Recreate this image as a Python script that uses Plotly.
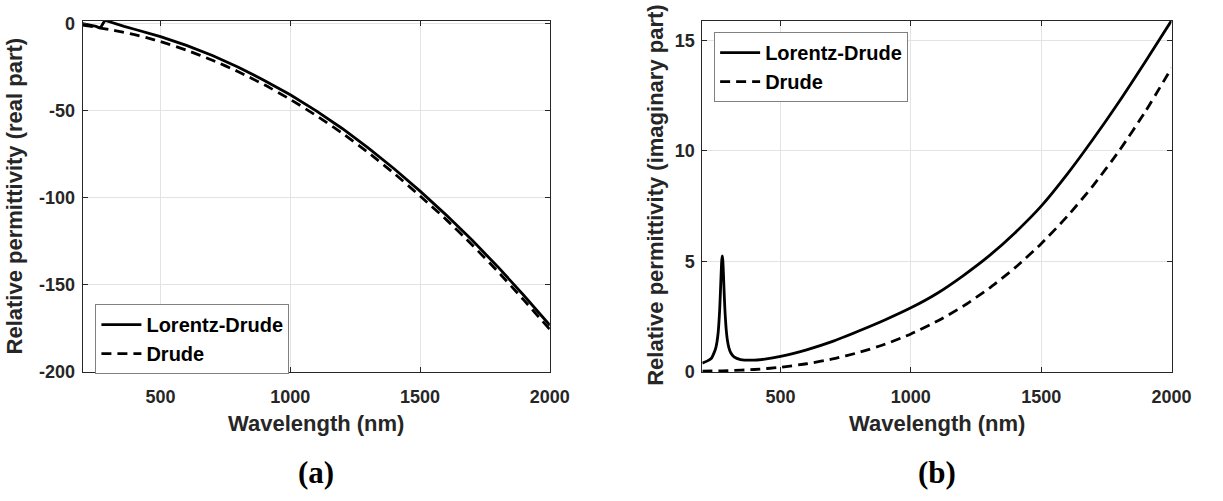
import plotly.graph_objects as go

# ---------------- data ----------------
# (a) real part
lam_re_ld = [200, 220, 240, 252, 260, 264, 267, 270, 273, 276, 279, 282, 285, 288, 292, 298,
             310, 330, 360, 400, 450, 500, 600, 700, 800, 900, 1000, 1100, 1200, 1300, 1400,
             1500, 1600, 1700, 1800, 1900, 2000]
re_ld = [0.0, -0.5, -1.1, -1.6, -2.1, -2.35, -2.4, -2.1, -1.3, -0.3, 0.6, 1.3, 1.7, 1.8, 1.6, 1.2,
         0.6, -0.3, -1.6, -3.2, -5.3, -7.5, -12.5, -18.3, -25.0, -32.6, -40.8, -50.1, -60.2, -71.3, -83.3,
         -96.2, -109.8, -124.3, -139.7, -156.1, -173.2]

lam_re_dr = [200, 250, 300, 350, 400, 450, 500, 600, 700, 800, 900, 1000, 1100, 1200, 1300, 1400,
             1500, 1600, 1700, 1800, 1900, 2000]
re_dr = [-0.8, -2.0, -3.3, -4.7, -6.3, -8.2, -10.3, -15.2, -21.0, -27.6, -35.1, -43.5, -52.8, -62.9,
         -74.0, -86.0, -99.0, -112.4, -127.0, -142.4, -158.8, -175.6]

# (b) imaginary part
lam_im_ld = [200, 220, 235, 244.5, 251.5, 256.5, 260.5, 263.5, 266.5, 268.5, 270.5, 272.5, 274.5,
             276.5, 278.5, 280.5, 282.5, 284.5, 286.5, 289.5, 292.5, 296.5, 301.5, 308.5, 321.5,
             346.5, 390, 440, 500, 600, 700, 800, 900, 1000, 1100, 1200, 1300, 1400, 1500, 1600,
             1700, 1800, 1900, 2000]
im_ld = [0.40, 0.50, 0.62, 0.85, 1.08, 1.38, 1.75, 2.2, 2.8, 3.35, 3.95, 4.55, 5.05,
         5.25, 5.07, 4.59, 3.98, 3.38, 2.85, 2.25, 1.8, 1.41, 1.11, 0.88, 0.68,
         0.56, 0.53, 0.58, 0.7, 1.0, 1.38, 1.85, 2.35, 2.9, 3.55, 4.35, 5.25, 6.3, 7.5, 8.95,
         10.55, 12.25, 14.05, 15.9]

lam_im_dr = [200, 300, 400, 500, 600, 700, 800, 900, 1000, 1100, 1200, 1300, 1400, 1500, 1600,
             1700, 1800, 1900, 2000]
im_dr = [0.04, 0.06, 0.11, 0.21, 0.37, 0.59, 0.88, 1.25, 1.72, 2.29, 2.97, 3.78, 4.72, 5.8, 7.04,
         8.44, 10.02, 11.79, 13.75]

x_ticks = [500, 1000, 1500, 2000]
y1_ticks = [0, -50, -100, -150, -200]
y1_ticktext = ["0", "-50", "-100", "-150", "-200"]
y2_ticks = [0, 5, 10, 15]

names = ["Lorentz-Drude", "Drude"]
x_title = "Wavelength (nm)"
y1_title = "Relative permittivity (real part)"
y2_title = "Relative permittivity (imaginary part)"
panel_labels = ["(a)", "(b)"]

# ---------------- figure ----------------
W, H = 1223, 501
INK = "#262626"
GRID = "#e3e3e3"
SANS = "Liberation Sans, Arial, sans-serif"
TICKF = dict(family=SANS, size=18, color=INK, weight="bold")

def px_x(p):
    return p / W

def px_y(p):
    return 1 - p / H

fig = go.Figure()

line_solid = dict(color="black", width=2.8, shape="spline", smoothing=0.6)
line_dash = dict(color="black", width=2.8, dash="10px,6px", shape="spline", smoothing=0.6)

fig.add_trace(go.Scatter(x=lam_re_ld, y=re_ld, mode="lines", name=names[0],
                         line=dict(color="black", width=2.8),
                         xaxis="x", yaxis="y", legend="legend"))
fig.add_trace(go.Scatter(x=lam_re_dr, y=re_dr, mode="lines", name=names[1], line=line_dash,
                         xaxis="x", yaxis="y", legend="legend"))
fig.add_trace(go.Scatter(x=lam_im_ld, y=im_ld, mode="lines", name=names[0], line=line_solid,
                         xaxis="x2", yaxis="y2", legend="legend2"))
fig.add_trace(go.Scatter(x=lam_im_dr, y=im_dr, mode="lines", name=names[1], line=line_dash,
                         xaxis="x2", yaxis="y2", legend="legend2"))

ydom = [px_y(378), px_y(15)]
common_axis = dict(showline=True, linecolor=INK, linewidth=1, mirror="ticks", ticks="inside",
                   ticklen=5, tickcolor=INK, showgrid=True, gridcolor=GRID, gridwidth=1,
                   zeroline=False, tickfont=TICKF)

LEGF = dict(family=SANS, size=20, color="black", weight="bold")
fig.update_layout(
    width=W, height=H, margin=dict(l=0, r=0, t=0, b=0),
    paper_bgcolor="white", plot_bgcolor="white", showlegend=True,
    xaxis=dict(domain=[px_x(84), px_x(559)], range=[200, 2000], tickvals=x_ticks,
               anchor="y", ticklabelstandoff=8, **common_axis),
    yaxis=dict(domain=ydom, range=[-200, 1.8], tickvals=y1_ticks, ticktext=y1_ticktext,
               anchor="x", ticklabelstandoff=3, **common_axis),
    xaxis2=dict(domain=[px_x(714), px_x(1191)], range=[200, 2000], tickvals=x_ticks,
                anchor="y2", ticklabelstandoff=8, **common_axis),
    yaxis2=dict(domain=ydom, range=[0, 15.9], tickvals=y2_ticks, anchor="x2",
                ticklabelstandoff=3, **common_axis),
    legend=dict(x=px_x(97), y=px_y(308), xanchor="left", yanchor="top",
                bgcolor="white", bordercolor="#808080", borderwidth=1,
                font=LEGF, tracegroupgap=0, itemwidth=40),
    legend2=dict(x=px_x(726), y=px_y(27), xanchor="left", yanchor="top",
                 bgcolor="white", bordercolor="#808080", borderwidth=1,
                 font=LEGF, tracegroupgap=0, itemwidth=40),
)

LABF = dict(family=SANS, size=22, color=INK, weight="bold")
SERIF = dict(family="Liberation Serif, Times New Roman, serif", size=31, color="black", weight="bold")
ann = [
    dict(text=x_title, x=px_x(321.5), y=px_y(431), xref="paper", yref="paper",
         showarrow=False, font=LABF, xanchor="center", yanchor="middle"),
    dict(text=x_title, x=px_x(952.5), y=px_y(431), xref="paper", yref="paper",
         showarrow=False, font=LABF, xanchor="center", yanchor="middle"),
    dict(text=y1_title, x=px_x(15), y=px_y(196), xref="paper", yref="paper",
         showarrow=False, font=LABF, textangle=-90, xanchor="center", yanchor="middle"),
    dict(text=y2_title, x=px_x(667), y=px_y(196), xref="paper", yref="paper",
         showarrow=False, font=LABF, textangle=-90, xanchor="center", yanchor="middle"),
    dict(text=panel_labels[0], x=px_x(321.5), y=px_y(482), xref="paper", yref="paper",
         showarrow=False, font=SERIF, xanchor="center", yanchor="middle"),
    dict(text=panel_labels[1], x=px_x(952.5), y=px_y(482), xref="paper", yref="paper",
         showarrow=False, font=SERIF, xanchor="center", yanchor="middle"),
]
fig.update_layout(annotations=ann)

fig.write_html("out.html")
